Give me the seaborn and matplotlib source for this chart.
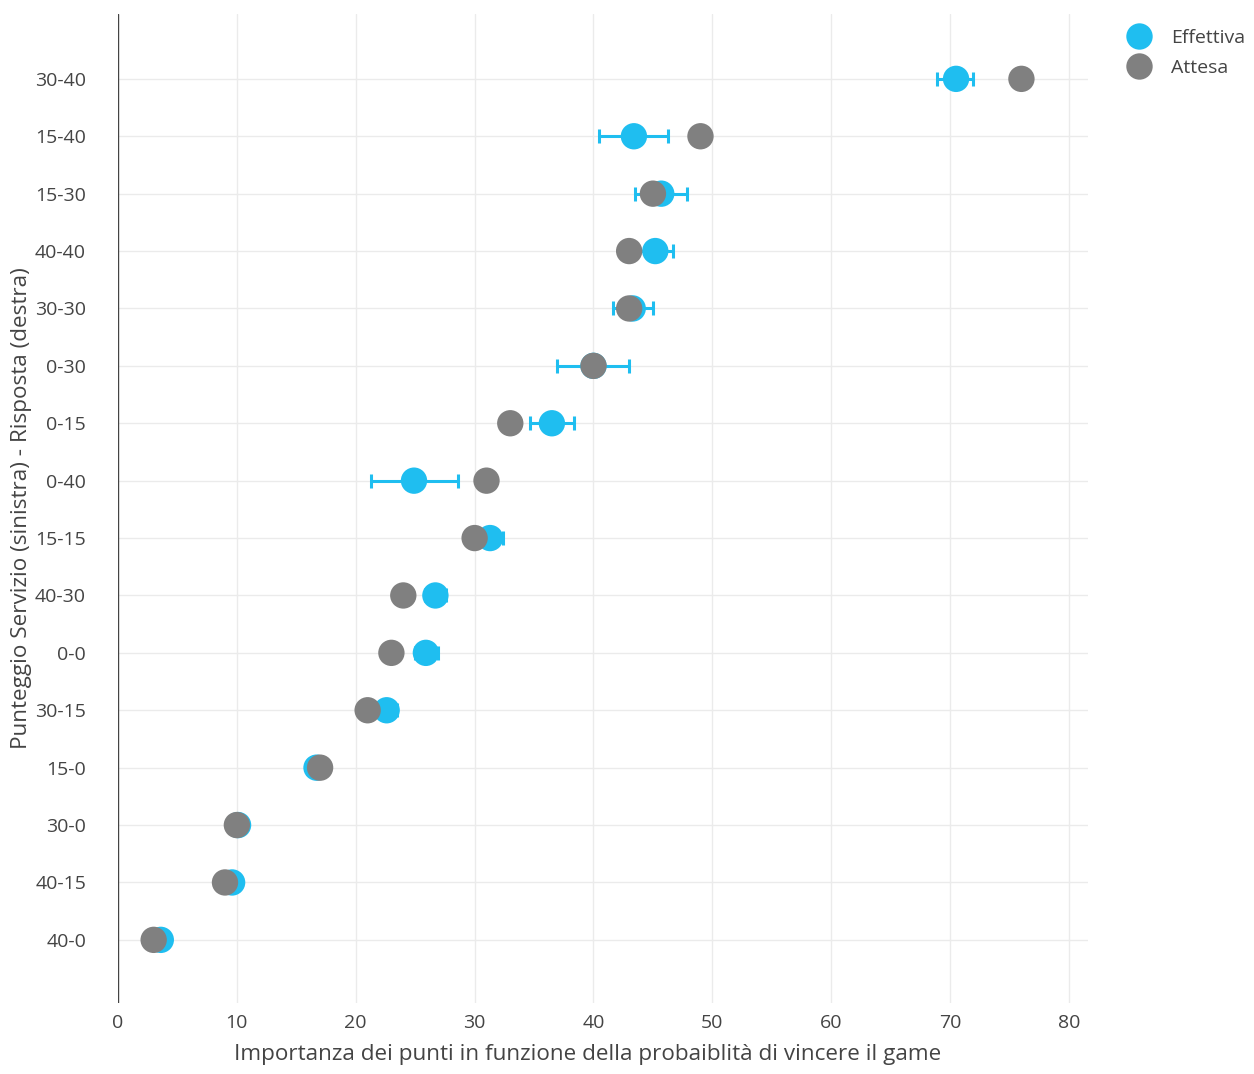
import numpy as np
import pandas as pd
import matplotlib
matplotlib.use('Agg')
import matplotlib.pyplot as plt
from matplotlib.lines import Line2D
import seaborn as sns

# categories, top to bottom
punteggi = ['30-40', '15-40', '15-30', '40-40', '30-30', '0-30', '0-15', '0-40',
            '15-15', '40-30', '0-0', '30-15', '15-0', '30-0', '40-15', '40-0']
effettiva = [70.5, 43.4, 45.7, 45.2, 43.3, 40.0, 36.5, 24.9,
             31.3, 26.7, 25.9, 22.6, 16.7, 10.1, 9.6, 3.6]
err_basso = [1.6, 2.9, 2.2, 1.5, 1.7, 3.1, 1.8, 3.6,
             1.1, 0.9, 0.9, 0.9, 0.8, 0.0, 0.0, 0.0]
err_alto = [1.4, 2.9, 2.2, 1.5, 1.7, 3.0, 1.9, 3.7,
            1.1, 0.9, 1.0, 0.9, 0.8, 0.0, 0.0, 0.0]
attesa = [76.0, 49.0, 45.0, 43.0, 43.0, 40.0, 33.0, 31.0,
          30.0, 24.0, 23.0, 21.0, 17.0, 10.0, 9.0, 3.0]

BLU = '#1fbef0'
GRIGIO = '#808080'

df = pd.DataFrame({
    'punteggio': punteggi * 2,
    'valore': effettiva + attesa,
    'tipo': ['Effettiva'] * len(punteggi) + ['Attesa'] * len(punteggi),
})

sns.set_style('white')
plt.rcParams['font.family'] = ['Open Sans', 'DejaVu Sans']

fig = plt.figure(figsize=(12.54, 10.74), dpi=100)
ax = fig.add_axes([118 / 1254, 1 - 1003 / 1074, (1088 - 118) / 1254, (1003 - 14) / 1074])

# grid
for v in range(10, 90, 10):
    ax.axvline(v, color='#ebebeb', lw=1, zorder=0)
pos = np.arange(len(punteggi))
for p in pos:
    ax.axhline(p, color='#ebebeb', lw=1, zorder=0)
ax.axvline(0, color='#444444', lw=1, zorder=1)

ax.errorbar(effettiva, punteggi, xerr=[err_basso, err_alto], fmt='none',
            ecolor=BLU, elinewidth=2.2, capsize=5, capthick=2.2, zorder=2)

sns.scatterplot(data=df, x='valore', y='punteggio', hue='tipo',
                palette={'Effettiva': BLU, 'Attesa': GRIGIO},
                s=360, linewidth=0, alpha=1, ax=ax, legend=False, zorder=3)

ax.set_xlim(0, 81.6)
ax.set_ylim(len(punteggi) - 1 + 1.1, -1.13)
ax.set_xticks(range(0, 90, 10))
for s in ax.spines.values():
    s.set_visible(False)
ax.tick_params(axis='both', length=0, labelsize=14, colors='#444444')
ax.tick_params(axis='y', pad=23)
ax.tick_params(axis='x', pad=8)
ax.set_xlabel('Importanza dei punti in funzione della probaiblità di vincere il game',
              fontsize=16.2, color='#444444')
ax.xaxis.set_label_coords(0.4845, -0.0415)
ax.set_ylabel('Punteggio Servizio (sinistra) - Risposta (destra)',
              fontsize=16.2, color='#444444', labelpad=2)

handles = [Line2D([], [], marker='o', ls='none', markersize=19, markerfacecolor=BLU, markeredgewidth=0),
           Line2D([], [], marker='o', ls='none', markersize=19, markerfacecolor=GRIGIO, markeredgewidth=0)]
fig.legend(handles, ['Effettiva', 'Attesa'], loc='upper left',
           bbox_to_anchor=(1120 / 1254, 1 - 29 / 1074), frameon=False,
           fontsize=14, labelcolor='#444444', handletextpad=0.64,
           labelspacing=0.6, borderaxespad=0, borderpad=0)

fig.savefig('out.png', dpi=100)
